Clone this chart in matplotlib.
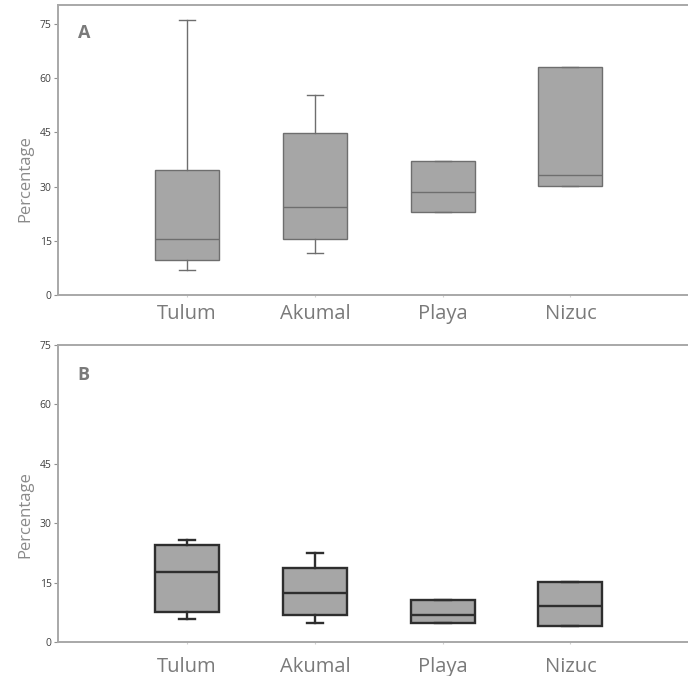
import matplotlib
matplotlib.use("Agg")
import matplotlib.pyplot as plt

sites = ["Tulum", "Akumal", "Playa", "Nizuc"]

# Panel A: five-number summaries per site
a_low = [6.9, 11.6, 23.1, 30.1]
a_q1 = [9.7, 15.4, 23.1, 30.1]
a_med = [15.5, 24.4, 28.5, 33.3]
a_q3 = [34.6, 44.8, 37.1, 63.2]
a_high = [76.1, 55.3, 37.1, 63.2]

# Panel B: five-number summaries per site
b_low = [5.9, 4.8, 4.8, 4.1]
b_q1 = [7.7, 6.7, 4.8, 4.1]
b_med = [17.7, 12.3, 6.7, 9.2]
b_q3 = [24.5, 18.6, 10.6, 15.2]
b_high = [25.8, 22.6, 10.6, 15.2]

yticks = [0, 15, 30, 45, 60, 75]

plt.rcParams["font.family"] = ["Open Sans", "DejaVu Sans"]

fig = plt.figure(figsize=(6.88, 6.76), dpi=100)
W, H = 688, 676


def make_axes(top_px, bottom_px, left_px=58):
    return fig.add_axes([left_px / W, 1 - bottom_px / H, 1 - left_px / W,
                         (bottom_px - top_px) / H])


def draw_panel(ax, low, q1, med, q3, high, edge, lw, ymax, letter,
               label_pad, ylabel_y, letter_y):
    stats = []
    for i, s in enumerate(sites):
        stats.append(dict(label=s, whislo=low[i], q1=q1[i], med=med[i],
                          q3=q3[i], whishi=high[i], fliers=[]))
    pos = list(range(1, len(sites) + 1))
    ax.bxp(stats, positions=pos, widths=0.5, patch_artist=True,
           showfliers=False, capwidths=0.125,
           boxprops=dict(facecolor="#a6a6a6", edgecolor=edge, linewidth=lw),
           medianprops=dict(color=edge, linewidth=lw),
           whiskerprops=dict(color=edge, linewidth=lw),
           capprops=dict(color=edge, linewidth=lw))
    ax.set_xlim(-0.01, 4.92)
    ax.set_ylim(0, ymax)
    ax.set_yticks(yticks)
    ax.set_yticklabels([str(t) for t in yticks], fontsize=7.5, color="#404040")
    ax.set_xticks(pos)
    ax.set_xticklabels(sites, fontsize=14.5, color="#7a7a7a")
    ax.tick_params(axis="x", length=1.5, color="#d0d0d0", pad=label_pad)
    ax.tick_params(axis="y", length=3, color="#909090", width=0.8, pad=1.5)
    for sp in ["left", "top", "bottom"]:
        ax.spines[sp].set_color("#a8a8a8")
        ax.spines[sp].set_linewidth(1.4)
    ax.spines["right"].set_visible(False)
    ax.set_ylabel("Percentage", fontsize=12, color="#8a8a8a")
    ax.yaxis.set_label_coords(-0.039, ylabel_y)
    ax.text(0.031, letter_y, letter, transform=ax.transAxes,
            fontsize=13, fontweight="bold", color="#7a7a7a",
            ha="left", va="center")


ax_a = make_axes(5, 295)
draw_panel(ax_a, a_low, a_q1, a_med, a_q3, a_high, "#6e6e6e", 1.0, 80.3, "A",
           5, 0.40, 0.903)

ax_b = make_axes(345, 642)
draw_panel(ax_b, b_low, b_q1, b_med, b_q3, b_high, "#2e2e2e", 1.7, 75, "B",
           9, 0.43, 0.90)

fig.savefig("out.png", dpi=100, facecolor="white")
